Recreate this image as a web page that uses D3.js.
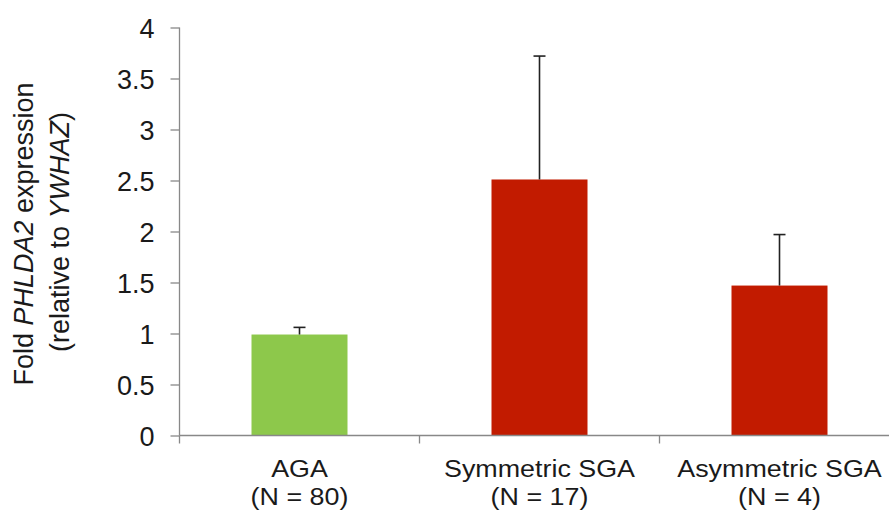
<!DOCTYPE html>
<html><head><meta charset="utf-8">
<script src="https://cdn.jsdelivr.net/npm/d3@7/dist/d3.min.js"></script>
<style>
body{margin:0;background:#fff;}
text{font-family:"Liberation Sans",Arial,sans-serif;fill:#1a1a1a;}
</style></head>
<body><svg id="c" width="889" height="513"></svg>
<script>
const categories = ["AGA", "Symmetric SGA", "Asymmetric SGA"];
const groupN = ["(N = 80)", "(N = 17)", "(N = 4)"];
const meanValues = [0.99, 2.51, 1.47];
const errorUpper = [1.06, 3.72, 1.97];
const barColors = ["#8dc84b", "#c21b00", "#c21b00"];
const yTicks = [0, 0.5, 1, 1.5, 2, 2.5, 3, 3.5, 4];

const svg = d3.select("#c");
const axisColor = "#888888";
const fs = 27;

const x = d3.scaleBand().domain(categories).range([179.5, 899.5]).paddingInner(0.6).paddingOuter(0.3);
const y = d3.scaleLinear().domain([0, 4]).range([435.5, 27.5]);

// bars
svg.selectAll("rect.bar").data(categories).join("rect")
  .attr("x", d => x(d)).attr("width", x.bandwidth())
  .attr("y", (d,i) => y(meanValues[i])).attr("height", (d,i) => y(0) - y(meanValues[i]))
  .attr("fill", (d,i) => barColors[i]);

// error bars
const eb = svg.append("g").attr("stroke", "#222").attr("stroke-width", 1.6);
categories.forEach((c,i) => {
  const cx = x(c) + x.bandwidth()/2;
  eb.append("line").attr("x1", cx).attr("x2", cx).attr("y1", y(meanValues[i])).attr("y2", y(errorUpper[i]));
  eb.append("line").attr("x1", cx-6).attr("x2", cx+6).attr("y1", y(errorUpper[i])).attr("y2", y(errorUpper[i]));
});

// y axis
const yAxis = d3.axisLeft(y).tickValues(yTicks).tickSize(9).tickPadding(16).tickFormat(d3.format("~g"));
const gy = svg.append("g").attr("transform", "translate(179.5,0)").call(yAxis);
gy.select(".domain").attr("stroke", axisColor).attr("stroke-width", 1.3).attr("d", "M0," + y(4) + "V" + y(0));
gy.selectAll(".tick line").attr("stroke", axisColor).attr("stroke-width", 1.3);
gy.selectAll(".tick text").attr("font-size", fs).attr("fill", "#1a1a1a").attr("font-family", "Liberation Sans, Arial, sans-serif").attr("dy", "0.36em");

// x axis
const gx = svg.append("g").attr("transform", "translate(0," + y(0) + ")");
gx.append("line").attr("x1", 179.5).attr("x2", 899.5).attr("stroke", axisColor).attr("stroke-width", 1.3);
const bounds = categories.map((c,i) => x(c) - x.step()*x.paddingOuter());
bounds.push(bounds[bounds.length-1] + x.step());
gx.selectAll("line.tk").data(bounds).join("line").attr("class","tk")
  .attr("x1", d => d).attr("x2", d => d).attr("y1", 0).attr("y2", 8)
  .attr("stroke", axisColor).attr("stroke-width", 1.3);

// x labels
categories.forEach((c,i) => {
  const cx = x(c) + x.bandwidth()/2;
  const g = svg.append("g").attr("transform", "translate(" + cx + ",0) scale(1.12,1)");
  g.append("text").attr("x", 0).attr("y", 477).attr("text-anchor", "middle").attr("font-size", 24).text(c);
  g.append("text").attr("x", 0).attr("y", 505).attr("text-anchor", "middle").attr("font-size", 24).text(groupN[i]);
});

// y title
const t1 = svg.append("text").attr("transform", "translate(33,234) rotate(-90)").attr("text-anchor", "middle").attr("font-size", fs);
t1.append("tspan").text("Fold ");
t1.append("tspan").attr("font-style", "italic").text("PHLDA2");
t1.append("tspan").text(" expression");
const t2 = svg.append("text").attr("transform", "translate(69,232) rotate(-90)").attr("text-anchor", "middle").attr("font-size", fs);
t2.append("tspan").text("(relative to ");
t2.append("tspan").attr("font-style", "italic").text("YWHAZ");
t2.append("tspan").text(")");
</script></body></html>
